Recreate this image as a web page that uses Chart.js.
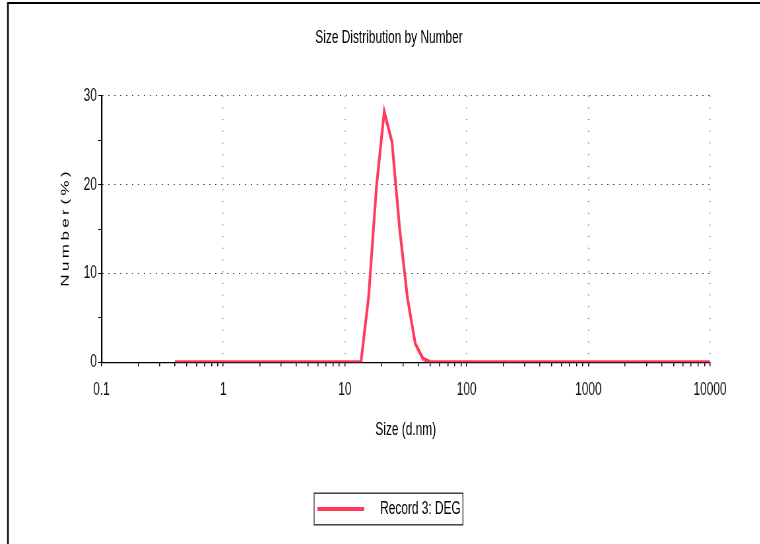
<!DOCTYPE html>
<html>
<head>
<meta charset="utf-8">
<title>Size Distribution by Number</title>
<script src="https://cdn.jsdelivr.net/npm/chart.js@4.4.1/dist/chart.umd.min.js"></script>
<style>
    html, body { margin: 0; padding: 0; background: #fff; overflow: hidden; }
    /* the source plot is horizontally condensed, so draw wide and squeeze */
    #sizeChart { display: block; transform: scaleX(0.66); transform-origin: 0 0; }
</style>
</head>
<body>
<canvas id="sizeChart" width="1152" height="544"></canvas>
<script>
// Size classes (d.nm) and number %
const sizes = [0.4, 11.7, 13.54, 15.69, 18.17, 21.04, 24.36, 28.21, 32.67, 37.84, 43.82, 50.75, 10000];
const numberPct = [0, 0, 0, 7.5, 19.8, 28.2, 24.8, 14.9, 7.2, 2.1, 0.4, 0, 0];

// Axis ticks
const xMajorTicks = [0.1, 1, 10, 100, 1000, 10000];
const xMinorSteps = [2, 3, 4, 5, 6, 7, 8, 9];
const yTicks = [0, 5, 10, 15, 20, 25, 30];
const yLabelled = [0, 10, 20, 30];

const seriesLabel = 'Record 3: DEG';
const lineColor = 'rgb(255, 58, 92)';

Chart.defaults.font.family = "'Liberation Sans', Arial, sans-serif";
Chart.defaults.color = '#000';

function buildXTicks() {
    const list = [];
    xMajorTicks.forEach((major, i) => {
        list.push({ value: major });
        if (i < xMajorTicks.length - 1) {
            xMinorSteps.forEach(m => list.push({ value: major * m }));
        }
    });
    return list;
}

const isMajorX = v => xMajorTicks.some(m => Math.abs(v - m) < m * 1e-6);

// Outer frame (top and left edge of the exported picture)
const framePlugin = {
    id: 'frame',
    beforeDraw(chart) {
        const ctx = chart.ctx;
        ctx.save();
        ctx.fillStyle = '#fff';
        ctx.fillRect(0, 0, chart.width, chart.height);
        ctx.strokeStyle = '#000';
        ctx.lineWidth = 2;
        ctx.beginPath();
        ctx.moveTo(12, 3);
        ctx.lineTo(chart.width, 3);
        ctx.stroke();
        ctx.lineWidth = 2.6;
        ctx.beginPath();
        ctx.moveTo(12, 2);
        ctx.lineTo(12, chart.height);
        ctx.stroke();
        ctx.restore();
    }
};

// Box around the legend entry
const legendBoxPlugin = {
    id: 'legendBox',
    afterDraw(chart) {
        const hb = chart.legend && chart.legend.legendHitBoxes && chart.legend.legendHitBoxes[0];
        if (!hb) return;
        const ctx = chart.ctx;
        const cy = hb.top + hb.height / 2;
        ctx.save();
        ctx.strokeStyle = '#333';
        ctx.lineWidth = 1.4;
        ctx.strokeRect(hb.left - 5, cy - 15.8, hb.width + 8.5, 31.6);
        ctx.restore();
    }
};

const ctx = document.getElementById('sizeChart').getContext('2d');
const chart = new Chart(ctx, {
    type: 'scatter',
    data: {
        datasets: [{
            label: '   ' + seriesLabel,
            data: sizes.map((s, i) => ({ x: s, y: numberPct[i] })),
            showLine: true,
            borderColor: lineColor,
            backgroundColor: lineColor,
            borderWidth: 4,
            pointRadius: 0,
            tension: 0
        }]
    },
    options: {
        responsive: false,
        animation: false,
        layout: { padding: { left: 103, right: 76.2, top: 10, bottom: 16 } },
        plugins: {
            title: {
                display: true,
                text: 'Size Distribution by Number',
                color: '#000',
                font: { size: 18, weight: 'normal' },
                padding: { top: 17.2, bottom: 46.9 }
            },
            legend: {
                position: 'bottom',
                labels: {
                    usePointStyle: true,
                    pointStyle: 'line',
                    pointStyleWidth: 71,
                    color: '#000',
                    font: { size: 18 },
                    padding: 10
                }
            },
            tooltip: { enabled: false }
        },
        scales: {
            x: {
                type: 'logarithmic',
                min: 0.1,
                max: 10000,
                afterBuildTicks: scale => { scale.ticks = buildXTicks(); },
                afterFit: scale => { scale.height = 127.7; },
                ticks: {
                    autoSkip: false,
                    maxRotation: 0,
                    minRotation: 0,
                    padding: 13,
                    color: '#111',
                    font: { size: 18 },
                    callback: value => isMajorX(value) ? String(value) : ''
                },
                grid: {
                    color: c => (c.tick && isMajorX(c.tick.value)) ? '#666' : 'rgba(0,0,0,0)',
                    lineWidth: 1.5,
                    tickColor: '#000',
                    tickWidth: 1.5,
                    tickLength: 4
                },
                border: { display: true, color: '#000', width: 1.3, dash: [1, 10.7] },
                title: {
                    display: true,
                    text: 'Size (d.nm)',
                    color: '#000',
                    font: { size: 18 },
                    padding: { top: 0, bottom: 49.2 }
                }
            },
            y: {
                min: 0,
                max: 30,
                afterBuildTicks: scale => { scale.ticks = yTicks.map(v => ({ value: v })); },
                afterFit: scale => { scale.width = 50.8; },
                ticks: {
                    padding: 2,
                    color: '#111',
                    font: { size: 18 },
                    callback: value => yLabelled.includes(value) ? String(value) : ''
                },
                grid: {
                    color: c => (c.tick && yLabelled.includes(c.tick.value)) ? '#111' : 'rgba(0,0,0,0)',
                    lineWidth: 1,
                    tickColor: '#000',
                    tickWidth: 1,
                    tickLength: 5
                },
                border: { display: true, color: '#000', width: 2.2, dash: [1.5, 7.5] },
                title: {
                    display: true,
                    text: 'N\u2009u\u2009m\u2009b\u2009e\u2009r (\u2009%\u2009)',
                    color: '#000',
                    font: { size: 17 },
                    padding: { top: -14, bottom: 0 }
                }
            }
        }
    },
    plugins: [framePlugin, legendBoxPlugin]
});
</script>
</body>
</html>
